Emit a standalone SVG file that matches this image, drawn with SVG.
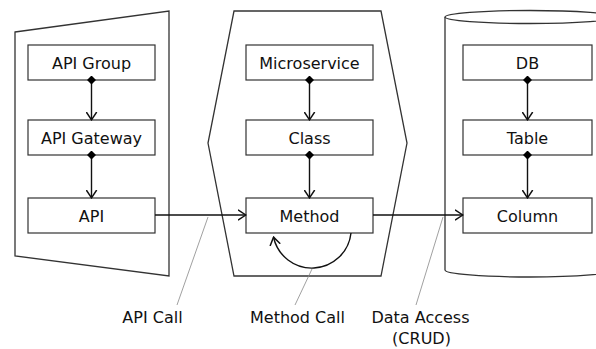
<svg xmlns="http://www.w3.org/2000/svg" width="596" height="349" viewBox="0 0 596 349">
<defs>
<style>
.shape{fill:#fff;stroke:#333;stroke-width:1.3}
.box{fill:#fff;stroke:#333;stroke-width:1.2}
.lbl{font-family:"DejaVu Sans",Verdana,sans-serif;font-size:16px;fill:#111;text-anchor:middle}
.conn{fill:none;stroke:#111;stroke-width:1.4}
.lead{fill:none;stroke:#888;stroke-width:0.8}
</style>
<marker id="arr" viewBox="0 0 9 12" refX="8.5" refY="6" markerWidth="9" markerHeight="12" orient="auto" markerUnits="userSpaceOnUse">
<path d="M0.5,0.8 L8.3,6 L0.5,11.2" fill="none" stroke="#111" stroke-width="1.5"/>
</marker>
<marker id="dia" viewBox="0 0 9 9" refX="4.5" refY="4.5" markerWidth="9" markerHeight="9" orient="auto" markerUnits="userSpaceOnUse">
<path d="M0,4.5 L4.5,0 L9,4.5 L4.5,9 Z" fill="#000"/>
</marker>
</defs>
<rect width="596" height="349" fill="#fff"/>

<g id="api-container">
<polygon class="shape" points="15,32 169,11 169,276 15,256"/>
</g>
<g id="service-container">
<polygon class="shape" points="234,11 381,11 407,143 381,276 234,276 208,143"/>
</g>
<g id="db-container">
<path class="shape" d="M445,17 L445,270 A85,7 0 0 0 615,270 L615,17"/>
<ellipse class="shape" cx="530" cy="17" rx="85" ry="6.5"/>
</g>

<g id="api-group"><rect class="box" x="28" y="45" width="127" height="35"/><text class="lbl" x="91.5" y="68.5">API Group</text></g>
<g id="api-gateway"><rect class="box" x="28" y="120" width="127" height="35"/><text class="lbl" x="91.5" y="143.5">API Gateway</text></g>
<g id="api"><rect class="box" x="28" y="198" width="127" height="35"/><text class="lbl" x="91.5" y="221.5">API</text></g>

<g id="microservice"><rect class="box" x="246" y="45" width="127" height="35"/><text class="lbl" x="309.5" y="68.5">Microservice</text></g>
<g id="class"><rect class="box" x="246" y="120" width="127" height="35"/><text class="lbl" x="309.5" y="143.5">Class</text></g>
<g id="method"><rect class="box" x="246" y="198" width="127" height="35"/><text class="lbl" x="309.5" y="221.5">Method</text></g>

<g id="db"><rect class="box" x="463" y="45" width="129" height="35"/><text class="lbl" x="527.5" y="68.5">DB</text></g>
<g id="table"><rect class="box" x="463" y="120" width="129" height="35"/><text class="lbl" x="527.5" y="143.5">Table</text></g>
<g id="column"><rect class="box" x="463" y="198" width="129" height="35"/><text class="lbl" x="527.5" y="221.5">Column</text></g>

<g id="connectors">
<path class="conn" d="M91.5,80 L91.5,120" marker-start="url(#dia)" marker-end="url(#arr)"/>
<path class="conn" d="M91.5,155 L91.5,198" marker-start="url(#dia)" marker-end="url(#arr)"/>
<path class="conn" d="M309.5,80 L309.5,120" marker-start="url(#dia)" marker-end="url(#arr)"/>
<path class="conn" d="M309.5,155 L309.5,198" marker-start="url(#dia)" marker-end="url(#arr)"/>
<path class="conn" d="M527.5,80 L527.5,120" marker-start="url(#dia)" marker-end="url(#arr)"/>
<path class="conn" d="M527.5,155 L527.5,198" marker-start="url(#dia)" marker-end="url(#arr)"/>
<path class="conn" d="M155,215 L246,215" marker-end="url(#arr)"/>
<path class="conn" d="M373,215 L463,215" marker-end="url(#arr)"/>
<path class="conn" d="M351,233 A39.3,39.3 0 0 1 273.5,237" marker-end="url(#arr)"/>
<path class="lead" d="M208,217 L177,305"/>
<path class="lead" d="M312,269 L295,305"/>
<path class="lead" d="M443,217 L416,305"/>
</g>

<g id="labels">
<text class="lbl" x="152.5" y="323">API Call</text>
<text class="lbl" x="297.5" y="323">Method Call</text>
<text class="lbl" x="420.5" y="323">Data Access</text>
<text class="lbl" x="421.5" y="344">(CRUD)</text>
</g>
</svg>
